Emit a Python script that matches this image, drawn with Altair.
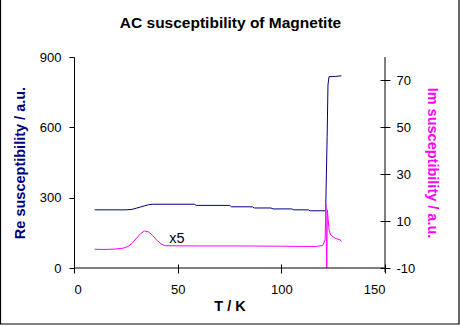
import altair as alt
import pandas as pd

# Real part (left axis)
re_T = [10, 25, 28, 30, 32, 34, 36, 38, 58, 59, 75, 76, 86, 87, 95, 96, 105, 106, 113, 114,
        121.4, 121.6, 122.1, 122.5, 123.0, 126, 129]
re_val = [248, 248, 250, 255, 260, 265, 270, 272, 272, 267, 267, 261, 261, 256, 256, 252, 252, 248, 248, 244,
          244, 341, 560, 781, 816, 817, 820]

# Imaginary part x5 (right axis)
im_T = [10, 15, 20, 24, 26, 28, 30, 32, 34, 36, 38, 40, 42, 44, 60, 80, 100, 110, 117, 120,
        121.1, 121.5, 121.9, 122.2, 123.0, 123.8, 125.9, 128.3, 129.1]
im_val = [-2.0, -2.1, -1.9, -1.5, -0.8, 0.5, 2.5, 4.6, 5.8, 5.4, 3.8, 1.8, 0.3, -0.5, -0.6, -0.6, -0.7, -0.8, -0.8, -0.4,
          2.0, 17.0, -10.0, 14.8, 6.3, 4.1, 2.7, 2.0, 1.3]

note_T = [46]
note_val = [0.6]
note_text = ["x5"]

title_text = "AC susceptibility of Magnetite"
x_ticks = [0, 50, 100, 150]
re_ticks = [0, 300, 600, 900]
im_ticks = [-10, 10, 30, 50, 70]

FONT = "Liberation Sans"
NAVY = "#000080"
MAG = "#FF00FF"

re_df = pd.DataFrame({"T": re_T, "Re": re_val})
im_df = pd.DataFrame({"T": im_T, "Im": im_val})
note_df = pd.DataFrame({"T": note_T, "Im": note_val, "label": note_text})

W, H = 311, 211
x_scale = alt.Scale(domain=[0, 150], nice=False)

x_enc = alt.X("T:Q", scale=x_scale,
              axis=alt.Axis(values=x_ticks, title="T / K", offset=-4, tickSize=9, domain=False,
                            labelPadding=10, titlePadding=3, grid=False))
x_plain = alt.X("T:Q", scale=x_scale)

re_line = alt.Chart(re_df).mark_line(color=NAVY, strokeWidth=1, clip=True).encode(
    x=x_enc,
    y=alt.Y("Re:Q", scale=alt.Scale(domain=[0, 900], nice=False),
            axis=alt.Axis(values=re_ticks, title="Re susceptibility / a.u.", titleColor=NAVY,
                          orient="left", tickSize=5, labelPadding=8, titlePadding=12, grid=False)),
    order="T:Q",
)

im_scale = alt.Scale(domain=[-10, 80], nice=False)
im_line = alt.Chart(im_df).mark_line(color=MAG, strokeWidth=1, clip=True).encode(
    x=x_plain,
    y=alt.Y("Im:Q", scale=im_scale,
            axis=alt.Axis(values=im_ticks, title="Im susceptibility / a.u.", titleColor=MAG,
                          orient="right", offset=-5, tickSize=10, domain=False,
                          labelExpr="datum.value + ''",
                          labelPadding=6, titlePadding=10, grid=False)),
    order="T:Q",
)
note = alt.Chart(note_df).mark_text(align="left", baseline="alphabetic", fontSize=14.5, font=FONT,
                                    color="black").encode(
    x=x_plain, y=alt.Y("Im:Q", scale=im_scale), text="label:N")

im_layer = alt.layer(im_line, note)

one = alt.Data(values=[{"k": 1}])
decor = alt.layer(
    alt.Chart(one).mark_rule(color="black", strokeWidth=1).encode(
        x=alt.value(0), x2=alt.value(W), y=alt.value(H)),
    alt.Chart(one).mark_rule(color="black", strokeWidth=1).encode(
        x=alt.value(W), y=alt.value(0), y2=alt.value(H + 4)),
    alt.Chart(one).mark_rect(fill=None, stroke="black", strokeWidth=1.2, clip=False).encode(
        x=alt.value(-73.5), x2=alt.value(W + 74), y=alt.value(-60), y2=alt.value(H + 56)),
    alt.Chart(one).mark_text(fontSize=15.5, font=FONT, fontWeight="bold", color="black",
                             baseline="alphabetic", align="center").encode(
        x=alt.value(W / 2 + 1), y=alt.value(-29), text=alt.value(title_text)),
)

chart = alt.layer(re_line, im_layer, decor).resolve_scale(y="independent").properties(
    width=W, height=H,
    background="white",
    autosize=alt.AutoSizeParams(type="none"),
    padding={"left": 74, "top": 57, "right": 75, "bottom": 58},
).configure_view(stroke=None).configure_axis(
    labelFont=FONT, labelFontSize=13, labelColor="black", titleFont=FONT, titleFontSize=14.5,
    titleFontWeight="bold", titleColor="black", tickColor="black", domainColor="black",
    labelFontWeight="normal"
)

chart.save("out.html", embed_options={"renderer": "svg", "actions": False})
